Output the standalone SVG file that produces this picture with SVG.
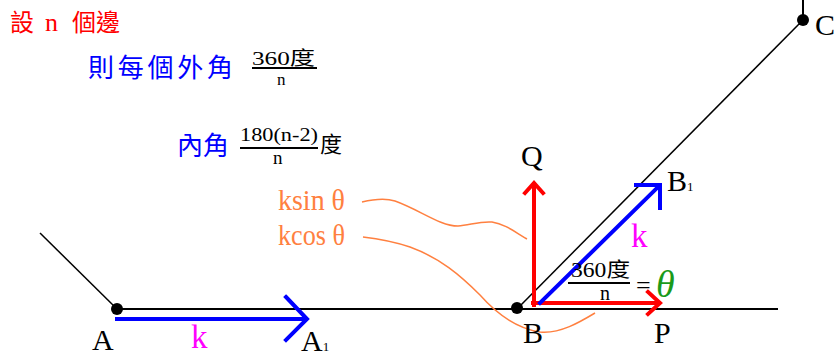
<svg xmlns="http://www.w3.org/2000/svg" width="834" height="358" viewBox="0 0 834 358">
<style>
.cjk{font-family:"Noto Sans CJK TC","Noto Sans CJK SC",sans-serif}
.ser{font-family:"Liberation Serif","Noto Sans CJK TC",serif}
.lbl{font-family:"Liberation Serif",serif;font-size:30px;fill:#000}
.thin{stroke:#000;stroke-width:1.5;fill:none}
.base{stroke:#000;stroke-width:2;fill:none}
.red{stroke:#ff0000;stroke-width:4;fill:none;stroke-linecap:square}
.blue{stroke:#0000ff;stroke-width:4;fill:none;stroke-linecap:square}
.or{stroke:#ff8040;stroke-width:1.5;fill:none}
.dot{fill:#000}
.bar{stroke:#000;stroke-width:2}
</style>
<rect width="834" height="358" fill="#fff"/>
<g id="title">
<text class="cjk" x="10" y="31" font-size="24" fill="#ff0000"><tspan x="10">設</tspan> <tspan x="45" class="ser" font-size="26">n</tspan> <tspan x="72">個邊</tspan></text>
</g>
<g id="exterior-angle">
<text class="cjk" x="88" y="77" font-size="26" fill="#0000ff" textLength="145" lengthAdjust="spacing">則每個外角</text>
<text class="ser" x="252" y="65" font-size="19" textLength="63" lengthAdjust="spacingAndGlyphs">360度</text>
<line class="bar" x1="252" y1="68" x2="317" y2="68"/>
<text class="ser" x="277" y="85" font-size="17">n</text>
</g>
<g id="interior-angle">
<text class="cjk" x="177" y="155" font-size="26" fill="#0000ff">內角</text>
<text class="ser" x="240" y="141" font-size="19" textLength="78" lengthAdjust="spacingAndGlyphs">180(n-2)</text>
<line class="bar" x1="240" y1="148" x2="318" y2="148"/>
<text class="ser" x="273" y="164" font-size="19">n</text>
<text class="cjk" x="320" y="152" font-size="22">度</text>
</g>
<g id="connectors">
<line class="thin" x1="40" y1="233" x2="117" y2="309"/>
<line class="base" x1="117" y1="309" x2="778" y2="309"/>
<line class="thin" x1="518" y1="308" x2="803" y2="20"/>
<line class="base" x1="803" y1="0" x2="803" y2="20"/>
<path class="or" d="M362,202 C375,199 385,198 395,201 C420,210 440,226 458,226 C470,225 480,221 492,222 C505,224 515,232 527,239"/>
<path class="or" d="M363,237 C380,239 395,242 410,247 C440,258 460,275 480,295 C495,312 515,328 540,332 C560,334 580,322 595,313"/>
<line class="blue" x1="117" y1="319" x2="306" y2="319"/>
<polyline class="blue" points="286,297 307,319 286,340" stroke-width="3.5"/>
<line class="red" x1="534" y1="305" x2="534" y2="184"/>
<polyline class="red" points="525,193 534,183 543,193" stroke-width="3.5"/>
<line class="red" x1="533" y1="303" x2="659" y2="303"/>
<polyline class="red" points="648,292 660,303 648,314" stroke-width="3.5"/>
<line class="blue" x1="540" y1="303" x2="658" y2="187" stroke-width="3.5"/>
<polyline class="blue" points="636,185 660,185 660,208" stroke-width="5" stroke-linecap="butt"/>
</g>
<g id="node-A">
<circle class="dot" cx="117" cy="309" r="6"/>
<text class="lbl" x="92" y="350">A</text>
</g>
<g id="node-A1">
<text class="lbl" x="301" y="351">A<tspan font-size="13">1</tspan></text>
</g>
<g id="node-B">
<circle class="dot" cx="517" cy="308" r="6"/>
<text class="lbl" x="523" y="343">B</text>
</g>
<g id="node-C">
<circle class="dot" cx="803" cy="20" r="6"/>
<text class="lbl" x="815" y="35">C</text>
</g>
<g id="node-Q">
<text class="lbl" x="521" y="166">Q</text>
</g>
<g id="node-P">
<text class="lbl" x="654" y="343">P</text>
</g>
<g id="node-B1">
<text class="lbl" x="667" y="191">B<tspan font-size="13">1</tspan></text>
</g>
<g id="labels">
<text class="ser" x="191" y="348" font-size="33" fill="#ff00ff">k</text>
<text class="ser" x="631" y="247" font-size="33" fill="#ff00ff">k</text>
<text class="ser" x="278" y="210" font-size="30" fill="#ff8040" textLength="67" lengthAdjust="spacingAndGlyphs">ksin θ</text>
<text class="ser" x="278" y="245" font-size="30" fill="#ff8040" textLength="67" lengthAdjust="spacingAndGlyphs">kcos θ</text>
<text class="ser" x="571" y="277" font-size="20" textLength="59" lengthAdjust="spacingAndGlyphs">360度</text>
<line class="bar" x1="568" y1="283" x2="630" y2="283"/>
<text class="ser" x="600" y="300" font-size="20">n</text>
<text class="ser" x="636" y="294" font-size="26">=</text>
<text class="ser" x="656" y="297" font-size="38" font-style="italic" fill="#1a9a1a">θ</text>
</g>
</svg>
